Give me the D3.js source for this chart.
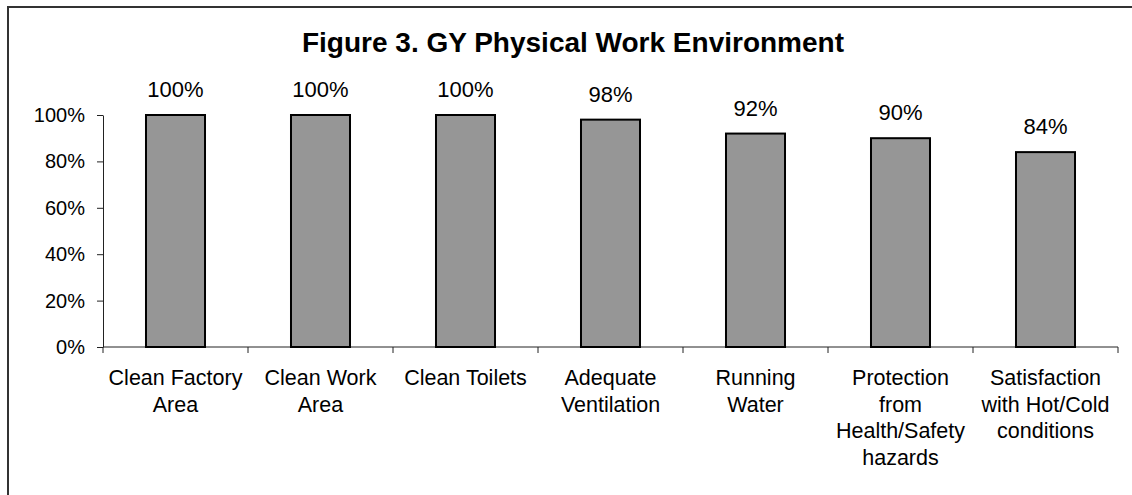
<!DOCTYPE html>
<html>
<head>
<meta charset="utf-8">
<script src="https://cdn.jsdelivr.net/npm/d3@7"></script>
<style>
  body { margin: 0; background: #fff; }
  svg { display: block; font-family: Arial, "Liberation Sans", sans-serif; }
</style>
</head>
<body>
<div id="main"></div>
<script>
// physical work environment - percentages
var categories = [
  ["Clean Factory", "Area"],
  ["Clean Work", "Area"],
  ["Clean Toilets"],
  ["Adequate", "Ventilation"],
  ["Running", "Water"],
  ["Protection", "from", "Health/Safety", "hazards"],
  ["Satisfaction", "with Hot/Cold", "conditions"]
];
var values = [100, 100, 100, 98, 92, 90, 84];
var yTicks = [0, 20, 40, 60, 80, 100];
var title = "Figure 3. GY Physical Work Environment";

var width = 1132, height = 495;
var margin = {top: 115, right: 14, bottom: 148, left: 103};

var svg = d3.select("#main")
  .append("svg")
  .attr("width", width)
  .attr("height", height);

// outer frame (runs off the right/bottom edge)
svg.append("rect")
  .attr("x", 8).attr("y", 7)
  .attr("width", width + 20).attr("height", height + 20)
  .attr("fill", "none")
  .attr("stroke", "#333")
  .attr("stroke-width", 2);

svg.append("text")
  .attr("x", 573)
  .attr("y", 52)
  .attr("text-anchor", "middle")
  .attr("font-weight", "bold")
  .attr("font-size", 28)
  .text(title);

var idx = d3.range(values.length);

var x = d3.scaleBand()
  .domain(idx)
  .range([margin.left, margin.left + 145 * values.length])
  .paddingInner(0.593)
  .paddingOuter(0.2965);

var y = d3.scaleLinear()
  .domain([0, 100])
  .range([height - margin.bottom, margin.top]);

// y axis
var yAxis = svg.append("g")
  .attr("transform", "translate(" + margin.left + ",0)")
  .call(d3.axisLeft(y).tickValues(yTicks).tickFormat(d => d + "%").tickSize(6).tickSizeOuter(0).tickPadding(12));
yAxis.selectAll("text").attr("font-size", 20).attr("fill", "#000").attr("font-family", "Arial, 'Liberation Sans', sans-serif");
yAxis.selectAll("line, path").attr("stroke", "#222");

// x axis line + ticks between categories
var x0 = margin.left, x1 = margin.left + 145 * values.length;
svg.append("line")
  .attr("x1", x0).attr("x2", x1)
  .attr("y1", y(0)).attr("y2", y(0))
  .attr("stroke", "#222");
svg.append("g")
  .selectAll("line")
  .data(d3.range(values.length + 1))
  .join("line")
  .attr("x1", d => x0 + d * 145).attr("x2", d => x0 + d * 145)
  .attr("y1", y(0)).attr("y2", y(0) + 6)
  .attr("stroke", "#222");

// bars
svg.append("g")
  .selectAll("rect")
  .data(idx)
  .join("rect")
  .attr("x", d => x(d))
  .attr("y", d => y(values[d]))
  .attr("width", x.bandwidth())
  .attr("height", d => y(0) - y(values[d]))
  .attr("fill", "#969696")
  .attr("stroke", "#000")
  .attr("stroke-width", 2);

// value labels
svg.append("g")
  .selectAll("text")
  .data(idx)
  .join("text")
  .attr("x", d => x(d) + x.bandwidth() / 2)
  .attr("y", d => y(values[d]) - 18)
  .attr("text-anchor", "middle")
  .attr("font-size", 22)
  .text(d => values[d] + "%");

// category labels
var cat = svg.append("g")
  .selectAll("text")
  .data(idx)
  .join("text")
  .attr("x", d => x(d) + x.bandwidth() / 2)
  .attr("y", y(0) + 38)
  .attr("text-anchor", "middle")
  .attr("font-size", 21.5);
cat.selectAll("tspan")
  .data(d => categories[d])
  .join("tspan")
  .attr("x", function() { return this.parentNode.getAttribute("x"); })
  .attr("dy", (d, i) => i ? 26.7 : 0)
  .text(d => d);
</script>
</body>
</html>
